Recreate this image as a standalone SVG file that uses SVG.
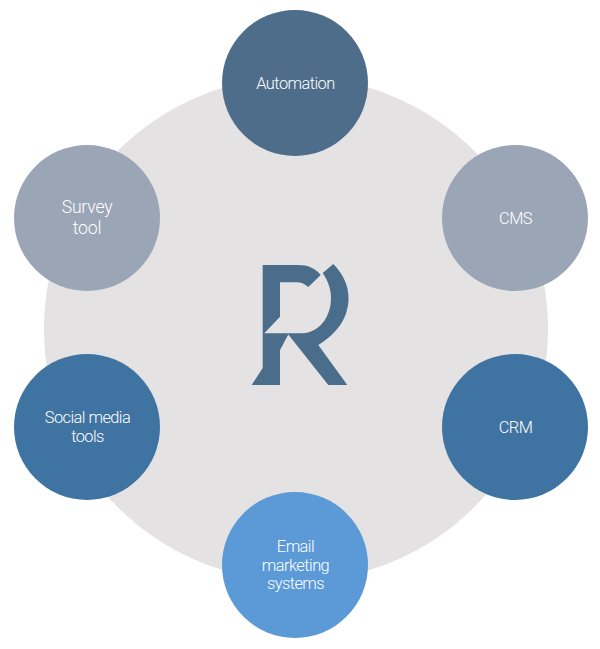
<svg xmlns="http://www.w3.org/2000/svg" width="600" height="649" viewBox="0 0 600 649">
<style>
.l{font-family:Roboto,"Liberation Sans",sans-serif;font-weight:300;font-size:16.4px;fill:#fff;text-anchor:middle;letter-spacing:-.55px}
.s{font-size:17.6px;letter-spacing:-.2px}
.d{fill:#4d6d8b}.g{fill:#9aa5b6}.b{fill:#3f73a1}
</style>
<rect width="600" height="649" fill="#fff"/>
<circle id="hub" cx="296" cy="329" r="252" fill="#e4e2e3"/>
<g id="logo" fill="#4a6d8c">
<path d="M262.7 265H298C308 265 315 268 320.7 275L308.3 287C304 283.500 301 282.300 296.700 282.300H280V316.700L264.300 333.300H302C319 333 331 317 331 298C331 289 328 281 322.700 273L333.300 264C343 274 348.500 285 348.500 298C348.500 317 338 333 318.300 345L347.300 385H328.300L288.300 334.500L280 350V385H251.700L262.700 368Z"/>
</g>
<g id="connectors"></g>
<g id="automation"><circle class="d" cx="295" cy="83" r="73"/><text class="l" x="295.500" y="88.500">Automation</text></g>
<g id="cms"><circle class="g" cx="515" cy="218" r="73"/><text class="l" x="515.500" y="223.500">CMS</text></g>
<g id="crm"><circle class="b" cx="515" cy="427" r="73"/><text class="l" x="515.500" y="432.500">CRM</text></g>
<g id="email"><circle cx="295" cy="565" r="73" fill="#5b9ad6"/><text class="l" x="295.500" y="552">Email</text><text class="l" x="295.500" y="571">marketing</text><text class="l" x="295.500" y="589">systems</text></g>
<g id="social"><circle class="b" cx="87" cy="427" r="73"/><text class="l" x="87.500" y="423">Social media</text><text class="l" x="87.500" y="442">tools</text></g>
<g id="survey"><circle class="g" cx="87" cy="218" r="73"/><text class="l s" x="87" y="212.500">Survey</text><text class="l s" x="87" y="234">tool</text></g>
</svg>
